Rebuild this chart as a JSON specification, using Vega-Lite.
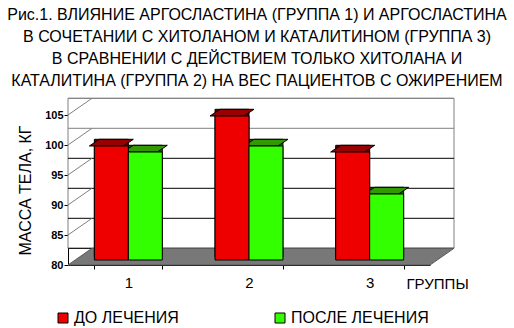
{
  "$schema": "https://vega.github.io/schema/vega-lite/v6.json",
  "width": 362,
  "height": 150,
  "autosize": {"type": "none"},
  "padding": {"left": 68, "top": 115, "right": 84, "bottom": 63},
  "background": "white",
  "title": {
    "text": [
      "Рис.1. ВЛИЯНИЕ АРГОСЛАСТИНА (ГРУППА 1) И АРГОСЛАСТИНА",
      "В СОЧЕТАНИИ С ХИТОЛАНОМ И КАТАЛИТИНОМ (ГРУППА 3)",
      "В СРАВНЕНИИ С ДЕЙСТВИЕМ ТОЛЬКО ХИТОЛАНА И",
      "КАТАЛИТИНА (ГРУППА 2) НА ВЕС ПАЦИЕНТОВ С ОЖИРЕНИЕМ"
    ],
    "anchor": "middle",
    "dx": 8,
    "offset": 7,
    "fontSize": 16,
    "fontWeight": "normal",
    "font": "Liberation Sans",
    "lineHeight": 22,
    "color": "black"
  },
  "config": {
    "font": "Liberation Sans",
    "view": {"stroke": null},
    "axisX": {
      "domainColor": "black",
      "tickColor": "black",
      "tickSize": 4,
      "tickBand": "extent",
      "labelFontSize": 15,
      "labelAngle": 0,
      "labelPadding": 6,
      "labelColor": "black",
      "titleFontSize": 15,
      "titleFontWeight": "normal",
      "titleColor": "black",
      "titleX": 338,
      "titleY": 23,
      "titleAlign": "left",
      "titleBaseline": "alphabetic",
      "zindex": 1,
      "grid": false
    },
    "axisY": {
      "domainColor": "black",
      "tickColor": "black",
      "tickSize": 4,
      "labelFontSize": 11,
      "labelFontWeight": "bold",
      "labelPadding": 1,
      "labelColor": "black",
      "labelOverlap": false,
      "titleFontSize": 16,
      "titleFontWeight": "normal",
      "titleColor": "black",
      "titleX": -43,
      "titleY": 75,
      "titleAlign": "center",
      "titleBaseline": "middle",
      "grid": false
    },
    "legend": {
      "labelFontSize": 16,
      "labelFont": "Liberation Sans",
      "labelColor": "black",
      "symbolType": "square",
      "symbolSize": 100,
      "symbolStrokeColor": "black",
      "symbolStrokeWidth": 1,
      "columnPadding": 93,
      "labelOffset": 3,
      "padding": 0,
      "labelLimit": 0
    }
  },
  "datasets": {
    "bars": [
      {"group": "1", "series": "ДО ЛЕЧЕНИЯ", "value": 99},
      {"group": "1", "series": "ПОСЛЕ ЛЕЧЕНИЯ", "value": 98},
      {"group": "2", "series": "ДО ЛЕЧЕНИЯ", "value": 104},
      {"group": "2", "series": "ПОСЛЕ ЛЕЧЕНИЯ", "value": 99},
      {"group": "3", "series": "ДО ЛЕЧЕНИЯ", "value": 98},
      {"group": "3", "series": "ПОСЛЕ ЛЕЧЕНИЯ", "value": 91}
    ],
    "ticks": [
      {"v": 80}, {"v": 85}, {"v": 90}, {"v": 95}, {"v": 100}, {"v": 105}
    ],
    "one": [{"lo": 80, "hi": 105}]
  },
  "layer": [
    {
      "data": {"name": "one"},
      "mark": {"type": "rect", "fill": "white", "stroke": "#808080", "strokeWidth": 1, "xOffset": 24, "x2Offset": 24, "yOffset": -16.7, "y2Offset": -16.7},
      "encoding": {
        "y": {"field": "lo", "type": "quantitative", "title": "МАССА ТЕЛА, КГ", "scale": {"domain": [80, 105], "nice": false, "zero": false}, "axis": {"values": [80, 85, 90, 95, 100, 105]}},
        "y2": {"field": "hi"}
      }
    },
    {
      "data": {"name": "ticks"},
      "mark": {"type": "rule", "strokeWidth": 1, "xOffset": 24, "x2Offset": 24, "yOffset": -16.7},
      "encoding": {
        "y": {"field": "v", "type": "quantitative", "title": "МАССА ТЕЛА, КГ", "axis": {"values": [80, 85, 90, 95, 100, 105]}},
        "color": {"condition": {"test": "datum.v >= 100", "value": "#808080"}, "value": "#000000"}
      }
    },
    {
      "data": {"name": "ticks"},
      "transform": [{"filter": "datum.v > 80"}],
      "mark": {"type": "point", "shape": "M -1 0.696 L 1 -0.696", "size": 576, "filled": false, "stroke": "#808080", "strokeWidth": 1, "opacity": 1, "xOffset": -48.35, "yOffset": -8.35},
      "encoding": {
        "x": {"datum": "1", "type": "nominal", "title": "ГРУППЫ"},
        "y": {"field": "v", "type": "quantitative", "title": "МАССА ТЕЛА, КГ", "axis": {"values": [80, 85, 90, 95, 100, 105]}}
      }
    },
    {
      "data": {"name": "one"},
      "mark": {"type": "point", "shape": "M -1 0.0433 L 0.8756 0.0433 L 1 -0.0433 L -0.8756 -0.0433 Z", "size": 148996, "filled": true, "fill": "#787878", "stroke": "#5a5a5a", "strokeWidth": 1, "opacity": 1, "xOffset": 12, "yOffset": -8.35},
      "encoding": {
        "x": {"datum": "2", "type": "nominal", "title": "ГРУППЫ"},
        "y": {"field": "lo", "type": "quantitative", "title": "МАССА ТЕЛА, КГ", "axis": {"values": [80, 85, 90, 95, 100, 105]}}
      }
    },
    {
      "data": {"name": "bars"},
      "mark": {"type": "bar", "stroke": "black", "strokeWidth": 1, "xOffset": 17.3, "yOffset": -11.7, "y2Offset": -8},
      "encoding": {
        "x": {"field": "group", "type": "nominal", "title": "ГРУППЫ", "scale": {"paddingInner": 0.437, "paddingOuter": 0.2185}},
        "xOffset": {"field": "series", "type": "nominal", "scale": {"domain": ["ДО ЛЕЧЕНИЯ", "ПОСЛЕ ЛЕЧЕНИЯ"], "paddingInner": 0, "paddingOuter": 0}},
        "y": {"field": "value", "type": "quantitative", "title": "МАССА ТЕЛА, КГ", "axis": {"values": [80, 85, 90, 95, 100, 105]}},
        "y2": {"datum": 80},
        "fill": {"condition": {"test": "datum.series === 'ДО ЛЕЧЕНИЯ'", "value": "#5c0000"}, "value": "#1a6600"}
      }
    },
    {
      "data": {"name": "bars"},
      "mark": {"type": "point", "shape": "M -1 0.152 L 0.545 0.152 L 1 -0.152 L -0.545 -0.152 Z", "size": 1936, "filled": true, "stroke": "black", "strokeWidth": 1, "opacity": 1, "xOffset": 12.3, "yOffset": -8.35},
      "encoding": {
        "x": {"field": "group", "type": "nominal", "title": "ГРУППЫ"},
        "xOffset": {"field": "series", "type": "nominal"},
        "y": {"field": "value", "type": "quantitative", "title": "МАССА ТЕЛА, КГ", "axis": {"values": [80, 85, 90, 95, 100, 105]}},
        "fill": {"condition": {"test": "datum.series === 'ДО ЛЕЧЕНИЯ'", "value": "#990000"}, "value": "#339900"}
      }
    },
    {
      "data": {"name": "bars"},
      "mark": {"type": "bar", "stroke": "black", "strokeWidth": 1, "xOffset": 7.3, "yOffset": -5, "y2Offset": -5},
      "encoding": {
        "x": {"field": "group", "type": "nominal", "title": "ГРУППЫ"},
        "xOffset": {"field": "series", "type": "nominal"},
        "y": {"field": "value", "type": "quantitative", "title": "МАССА ТЕЛА, КГ", "axis": {"values": [80, 85, 90, 95, 100, 105]}},
        "y2": {"datum": 80},
        "color": {
          "field": "series",
          "type": "nominal",
          "scale": {"domain": ["ДО ЛЕЧЕНИЯ", "ПОСЛЕ ЛЕЧЕНИЯ"], "range": ["#ee0000", "#33ff00"]},
          "legend": {"orient": "none", "legendX": -13, "legendY": 195, "direction": "horizontal", "title": null}
        }
      }
    }
  ]
}
